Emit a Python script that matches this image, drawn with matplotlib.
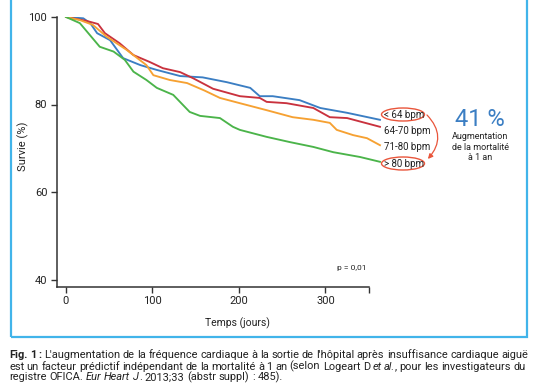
import matplotlib.pyplot as plt
from matplotlib.patches import Ellipse, FancyArrowPatch, Rectangle

plt.rcParams['font.family'] = ['Roboto', 'DejaVu Sans']

# survival curves (days, %)
days_lt64 = [0, 20, 28, 36, 51, 66, 86, 105, 132, 158, 186, 213, 224, 239, 270, 294, 325, 363]
surv_lt64 = [100, 99.7, 98.6, 96.3, 94.7, 90.6, 89.0, 87.9, 86.5, 86.2, 85.1, 83.8, 81.9, 81.9, 81.0, 79.2, 78.1, 76.5]

days_64_70 = [0, 24, 37, 45, 62, 78, 97, 112, 132, 147, 170, 201, 224, 232, 255, 286, 305, 325, 363]
surv_64_70 = [100, 99.1, 98.4, 96.3, 94.0, 91.3, 89.7, 88.3, 87.4, 86.0, 83.6, 81.9, 81.5, 80.6, 80.3, 79.2, 77.1, 76.9, 74.9]

days_71_80 = [0, 16, 31, 47, 70, 93, 101, 120, 140, 160, 178, 201, 232, 262, 286, 305, 313, 332, 348, 363]
surv_71_80 = [100, 99.3, 98.2, 95.5, 92.5, 89.0, 86.7, 85.6, 84.9, 83.2, 81.5, 80.3, 78.7, 77.1, 76.5, 75.8, 74.2, 73.0, 72.3, 70.7]

days_gt80 = [0, 16, 39, 55, 68, 78, 93, 105, 124, 143, 155, 178, 193, 201, 232, 259, 286, 309, 340, 363]
surv_gt80 = [100, 98.6, 93.2, 92.1, 90.2, 87.5, 85.6, 83.8, 82.2, 78.3, 77.4, 76.9, 74.9, 74.2, 72.6, 71.4, 70.3, 69.1, 68.0, 66.9]

group_labels = ['< 64 bpm', '64-70 bpm', '71-80 bpm', '> 80 bpm']
colors = ['#3b7ec3', '#c9323e', '#f6a132', '#4bb44a']

# caption, one list of (text, style) runs per line
caption = [
    [('Fig. 1 :', 'bold'), ("L'augmentation de la fréquence cardiaque à la sortie de l'hôpital "
                            "après insuffisance cardiaque aiguë", 'normal')],
    [('est un facteur prédictif indépendant de la mortalité à 1 an (selon Logeart D', 'normal'),
     ('et al.', 'italic'), (', pour les investigateurs du', 'normal')],
    [('registre OFICA.', 'normal'), ('Eur Heart J', 'italic'),
     ('. 2013;33 (abstr suppl) : 485).', 'normal')],
]

W, H = 538, 384
fig = plt.figure(figsize=(W / 100, H / 100), dpi=100)


def fp(x, y):
    # pixel position (top-left origin) -> figure fraction
    return x / W, 1 - y / H


# blue frame around the chart
fig.patches.append(Rectangle(fp(11, 337), 516 / W, 360 / H, transform=fig.transFigure,
                             fill=False, edgecolor='#41b4ea', linewidth=1.6))

ax = fig.add_axes([57 / W, 1 - 286.5 / H, 324.7 / W, 269.5 / H])
series = [(days_lt64, surv_lt64), (days_64_70, surv_64_70),
          (days_71_80, surv_71_80), (days_gt80, surv_gt80)]
for (d, s), c in zip(series, colors):
    ax.plot(d, s, color=c, linewidth=1.35, solid_joinstyle='round')

ax.set_xlim(-10.4, 365)
ax.set_ylim(38.4, 100)
ax.set_xticks([0, 100, 200, 300, 350], ['0', '100', '200', '300', ''])
ax.set_yticks([40, 60, 80, 100])
for side in ['top', 'right']:
    ax.spines[side].set_visible(False)
for side in ['left', 'bottom']:
    ax.spines[side].set_color('#333333')
    ax.spines[side].set_linewidth(1.1)
ax.spines['bottom'].set_bounds(-10.4, 350)
ax.tick_params(length=4, width=1.0, color='#333333', labelsize=8,
               labelcolor='#222222', pad=3)
ax.set_xlabel('Temps (jours)', fontsize=7.5, color='#222222')
ax.xaxis.set_label_coords(0.557, -0.115)
ax.set_ylabel('Survie (%)', fontsize=8, color='#222222')
ax.yaxis.set_label_coords(-0.085, 0.52)
ax.text(348, 42.6, 'p = 0,01', fontsize=6, color='#222222', ha='right', va='center')

# group labels on the right
label_y = [115, 131, 147, 164]
for lab, y in zip(group_labels, label_y):
    fig.text(*fp(384, y), lab, fontsize=7, color='#222222', ha='left', va='center')

red = '#e9553b'
for y in [115, 164]:
    fig.patches.append(Ellipse(fp(403, y - 0.5), 43 / W, 13 / H, transform=fig.transFigure,
                               fill=False, edgecolor=red, linewidth=1.0))
fig.patches.append(FancyArrowPatch(fp(425, 113), fp(426, 161), transform=fig.transFigure,
                                   connectionstyle='arc3,rad=-0.5', arrowstyle='-|>',
                                   mutation_scale=7, color=red, linewidth=0.9))

fig.text(*fp(480, 120), '41 %', fontsize=17, color='#3b7ec3', ha='center', va='center')
for txt, y in zip(['Augmentation', 'de la mortalité', 'à 1 an'], [137, 147, 158]):
    fig.text(*fp(480, y), txt, fontsize=6.5, color='#222222', ha='center', va='center')

# caption, justified between x0 and x1 except the last line
renderer = fig.canvas.get_renderer()
x0, x1 = 9, 528
line_y = [355, 366.5, 377.5]
for i, (runs, y) in enumerate(zip(caption, line_y)):
    words = []
    for txt, style in runs:
        for w in txt.split():
            words.append((w, style))
    items = []
    for w, style in words:
        kw = dict(fontsize=7.9, color='#222222', ha='left', va='center')
        if style == 'bold':
            kw['fontweight'] = 'bold'
        if style == 'italic':
            kw['fontstyle'] = 'italic'
        t = fig.text(*fp(x0, y), w, **kw)
        items.append((t, t.get_window_extent(renderer).width))
    space = fig.text(0, 0, 'a a', fontsize=7.9).get_window_extent(renderer).width - \
        2 * fig.text(0, 0, 'a', fontsize=7.9).get_window_extent(renderer).width
    for t in fig.texts[-2:]:
        t.remove()
    total = sum(w for _, w in items)
    if i < len(caption) - 1:
        gap = (x1 - x0 - total) / (len(items) - 1)
    else:
        gap = space
    x = x0
    for j, (t, w) in enumerate(items):
        # no gap between the closing word and a following comma or period
        if j > 0 and t.get_text()[0] in ',.':
            x -= gap
        t.set_position(fp(x, y))
        x += w + gap

fig.savefig('out.png', dpi=100)
